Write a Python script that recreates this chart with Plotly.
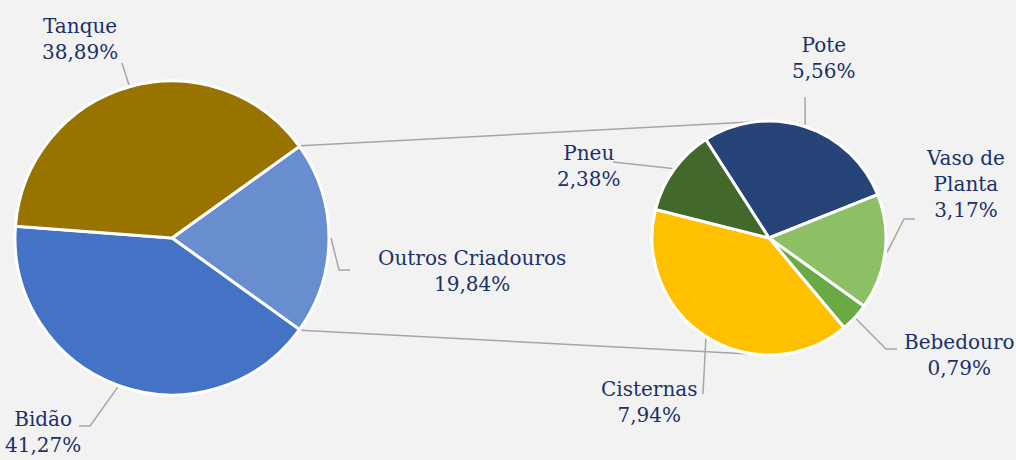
import math
import plotly.graph_objects as go

# ---- data ----
main_labels = ["Outros Criadouros", "Bidão", "Tanque"]
main_values = [19.84, 41.27, 38.89]
main_text = ["19,84%", "41,27%", "38,89%"]

sub_labels = ["Pote", "Vaso de Planta", "Bebedouro", "Cisternas", "Pneu"]
sub_values = [5.56, 3.17, 0.79, 7.94, 2.38]
sub_text = ["5,56%", "3,17%", "0,79%", "7,94%", "2,38%"]

# ---- styles / layout ----
main_colors = ["#698ED0", "#4472C4", "#997300"]
sub_colors = ["#264478", "#8DC064", "#6AAA45", "#FFC000", "#43682B"]
TEXT_COLOR = "#1A3168"
LINE_COLOR = "#A6A6A6"
FONT = "Georgia, 'DejaVu Serif', 'Liberation Serif', serif"
W, H = 1016, 460
MAIN_C, MAIN_R = (172, 238), 157
SUB_C, SUB_R = (769, 238), 117
main_rot = 90 - main_values[0] / sum(main_values) * 360 / 2
sub_rot = -32.7

# label block centers and leader elbows (pixels)
main_label_pos = {"Outros Criadouros": (472, 271), "Bidão": (43, 432), "Tanque": (80, 39)}
main_leader = {"Outros Criadouros": [(339, 270), (350, 270)],
               "Bidão": [(90, 426), (79, 426)],
               "Tanque": [(122, 63)]}
sub_label_pos = {"Pote": (824, 58), "Vaso de Planta": (965, 184), "Bebedouro": (959, 355),
                 "Cisternas": (649, 402), "Pneu": (589, 166)}
sub_leader = {"Pote": [(805, 97)], "Vaso de Planta": [(904, 219), (915, 219)],
              "Bebedouro": [(886, 349), (897, 349)], "Cisternas": [(703, 394)],
              "Pneu": [(613, 162)]}


def px(x, y):
    return x / W, 1 - y / H


def domain(c, r):
    return dict(x=[(c[0] - r) / W, (c[0] + r) / W], y=[1 - (c[1] + r) / H, 1 - (c[1] - r) / H])


def perim(c, r, ang):
    a = math.radians(ang)
    return c[0] + r * math.sin(a), c[1] - r * math.cos(a)


def mid_angles(values, rot):
    tot = sum(values)
    out, cur = [], rot
    for v in values:
        span = v / tot * 360
        out.append(cur + span / 2)
        cur += span
    return out


fig = go.Figure()
fig.add_trace(go.Pie(labels=main_labels, values=main_values, sort=False, direction="clockwise",
                     rotation=main_rot, domain=domain(MAIN_C, MAIN_R), textinfo="none",
                     marker=dict(colors=main_colors, line=dict(color="white", width=3)),
                     showlegend=False, hoverinfo="label+percent"))
fig.add_trace(go.Pie(labels=sub_labels, values=sub_values, sort=False, direction="clockwise",
                     rotation=sub_rot, domain=domain(SUB_C, SUB_R), textinfo="none",
                     marker=dict(colors=sub_colors, line=dict(color="white", width=3)),
                     showlegend=False, hoverinfo="label+value"))

shapes, annotations = [], []


def path_of(points):
    s = ""
    for i, (x, y) in enumerate(points):
        u, v = px(x, y)
        s += ("M" if i == 0 else " L") + f" {u:.5f} {v:.5f}"
    return s


# connectors between pies
span0 = main_values[0] / sum(main_values) * 360
top_pt = perim(MAIN_C, MAIN_R + 1, main_rot)
bot_pt = perim(MAIN_C, MAIN_R + 1, main_rot + span0)
for a, b in [(top_pt, (SUB_C[0], SUB_C[1] - SUB_R)), (bot_pt, (SUB_C[0], SUB_C[1] + SUB_R))]:
    shapes.append(dict(type="path", xref="paper", yref="paper", path=path_of([a, b]),
                       line=dict(color=LINE_COLOR, width=1.5), layer="below"))

# labels + leader lines
for lab, txt, ang in zip(main_labels, main_text, mid_angles(main_values, main_rot)):
    a = perim(MAIN_C, MAIN_R + 2, ang)
    shapes.append(dict(type="path", xref="paper", yref="paper", path=path_of([a] + main_leader[lab]),
                       line=dict(color=LINE_COLOR, width=1.5)))
    u, v = px(*main_label_pos[lab])
    annotations.append(dict(x=u, y=v, xref="paper", yref="paper", text=f"{lab}<br>{txt}",
                            showarrow=False, align="center", xanchor="center", yanchor="middle"))

for lab, txt, ang in zip(sub_labels, sub_text, mid_angles(sub_values, sub_rot)):
    a = perim(SUB_C, SUB_R + 2, ang)
    shapes.append(dict(type="path", xref="paper", yref="paper", path=path_of([a] + sub_leader[lab]),
                       line=dict(color=LINE_COLOR, width=1.5)))
    u, v = px(*sub_label_pos[lab])
    shown = lab.replace(" Planta", "<br>Planta") if lab == "Vaso de Planta" else lab
    annotations.append(dict(x=u, y=v, xref="paper", yref="paper", text=f"{shown}<br>{txt}",
                            showarrow=False, align="center", xanchor="center", yanchor="middle"))

fig.update_layout(width=W, height=H, margin=dict(l=0, r=0, t=0, b=0),
                  paper_bgcolor="#F2F2F2", plot_bgcolor="#F2F2F2",
                  font=dict(family=FONT, size=20, color=TEXT_COLOR),
                  shapes=shapes, annotations=annotations)

fig.write_html("out.html", config={"displayModeBar": False},
               post_script="document.body.style.margin='0';document.body.style.overflow='hidden';")
